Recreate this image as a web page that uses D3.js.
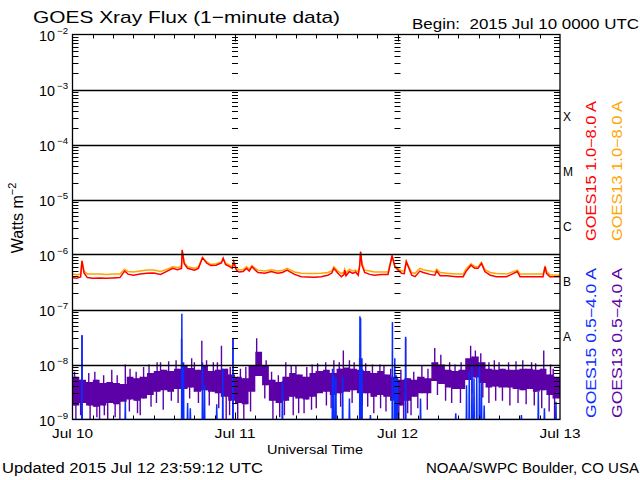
<!DOCTYPE html>
<html>
<head>
<meta charset="utf-8">
<script src="https://cdn.jsdelivr.net/npm/d3@7"></script>
<style>
body { margin:0; background:#fff; }
text { font-family:'Liberation Sans', Arial, sans-serif; }
</style>
</head>
<body>
<div class="canvas"></div>
<script>
// hours since 2015 Jul 10 0000 UTC, long channel (1.0-8.0 A) samples
const longHours = [
  0, 0.6, 1.2, 1.4, 1.7, 2.2, 3, 4, 5, 6,
  7, 7.7, 8.2, 9, 10, 11, 12, 13, 14, 14.8,
  15.5, 16.1, 16.2, 16.5, 17, 18, 18.6, 19.2, 19.8, 20.4,
  21.2, 22, 22.25, 22.6, 23.2, 23.6, 23.8, 24.2, 24.6, 25.2,
  25.7, 26.1, 26.5, 27, 27.4, 28.4, 29.35, 30.3, 31, 31.7,
  32.2, 32.8, 33.8, 34.8, 35.75, 36.7, 37.7, 38.3, 38.6, 39.2,
  39.7, 40.1, 40.2, 40.4, 40.9, 41.4, 41.8, 42.2, 42.4, 42.55,
  42.75, 43.15, 43.9, 44.6, 45.6, 46.6, 47.2, 47.6, 48.1, 48.6,
  49, 49.3, 49.6, 50.1, 50.6, 51.3, 51.8, 52.8, 53.5, 53.8,
  54.3, 55.3, 56.7, 57.7, 58.1, 58.85, 59.4, 59.9, 60.4, 60.9,
  61.7, 62.6, 64.1, 65.7, 66.1, 67.6, 69.5, 69.8, 70, 70.5,
  71.5, 72
];
// GOES15 1.0-8.0 A (W m-2)
const goes15Long = [
  3.8e-7, 3.7e-7, 3.9e-7, 7.6e-7, 4.6e-7, 3.8e-7, 3.7e-7, 3.75e-7, 3.7e-7, 3.75e-7,
  3.8e-7, 5.0e-7, 4.4e-7, 4.2e-7, 4.4e-7, 4.55e-7, 4.6e-7, 4.35e-7, 5.0e-7, 5.6e-7,
  5.3e-7, 5.6e-7, 1.22e-6, 6.8e-7, 5.6e-7, 5.2e-7, 5.6e-7, 8.7e-7, 7.0e-7, 6.3e-7,
  6.4e-7, 7.0e-7, 8.6e-7, 6.6e-7, 6.0e-7, 5.6e-7, 7.4e-7, 5.2e-7, 4.8e-7, 4.9e-7,
  5.6e-7, 5.0e-7, 6.0e-7, 5.2e-7, 4.7e-7, 4.55e-7, 4.9e-7, 4.55e-7, 4.7e-7, 5.2e-7,
  4.8e-7, 4.35e-7, 3.95e-7, 3.9e-7, 3.85e-7, 3.95e-7, 4.2e-7, 4.6e-7, 5.6e-7, 4.55e-7,
  3.95e-7, 4.3e-7, 5.2e-7, 4.1e-7, 4.9e-7, 4.55e-7, 4.8e-7, 4.2e-7, 6.0e-7, 1.13e-6,
  6.4e-7, 4.7e-7, 4.35e-7, 4.2e-7, 4.35e-7, 4.35e-7, 9.6e-7, 6.0e-7, 5.2e-7, 4.55e-7,
  4.5e-7, 7.4e-7, 6.0e-7, 4.2e-7, 3.95e-7, 5.0e-7, 4.7e-7, 4.35e-7, 4.2e-7, 5.0e-7,
  4.1e-7, 4.1e-7, 3.95e-7, 3.95e-7, 4.9e-7, 6.4e-7, 5.6e-7, 5.6e-7, 6.9e-7, 4.9e-7,
  4.2e-7, 3.95e-7, 3.95e-7, 4.9e-7, 3.95e-7, 3.95e-7, 3.95e-7, 6.0e-7, 4.55e-7, 3.95e-7,
  3.95e-7, 3.95e-7
];
// GOES13 1.0-8.0 A (W m-2)
const goes13Long = [
  4.4e-7, 4.3e-7, 4.4e-7, 7.8e-7, 5.0e-7, 4.4e-7, 4.4e-7, 4.4e-7, 4.35e-7, 4.4e-7,
  4.4e-7, 5.4e-7, 4.9e-7, 4.8e-7, 5.0e-7, 5.2e-7, 5.2e-7, 4.9e-7, 5.4e-7, 6.0e-7,
  5.8e-7, 6.0e-7, 1.15e-6, 7.2e-7, 6.0e-7, 5.6e-7, 6.0e-7, 8.8e-7, 7.4e-7, 6.6e-7,
  6.8e-7, 7.3e-7, 8.4e-7, 7.0e-7, 6.4e-7, 6.0e-7, 7.6e-7, 5.6e-7, 5.3e-7, 5.3e-7,
  6.0e-7, 5.4e-7, 6.3e-7, 5.6e-7, 5.2e-7, 5.0e-7, 5.3e-7, 5.0e-7, 5.1e-7, 5.6e-7,
  5.2e-7, 4.8e-7, 4.55e-7, 4.5e-7, 4.5e-7, 4.55e-7, 4.7e-7, 5.0e-7, 6.0e-7, 5.0e-7,
  4.55e-7, 4.7e-7, 5.4e-7, 4.6e-7, 5.4e-7, 5.0e-7, 5.2e-7, 4.8e-7, 6.2e-7, 1.1e-6,
  6.8e-7, 5.2e-7, 5.0e-7, 4.8e-7, 4.8e-7, 4.8e-7, 9.2e-7, 6.3e-7, 5.6e-7, 5.0e-7,
  5.0e-7, 7.6e-7, 6.3e-7, 4.7e-7, 4.55e-7, 5.6e-7, 5.3e-7, 5.0e-7, 4.8e-7, 5.4e-7,
  4.7e-7, 4.55e-7, 4.4e-7, 4.4e-7, 5.4e-7, 6.8e-7, 6.0e-7, 6.0e-7, 7.2e-7, 5.3e-7,
  4.7e-7, 4.5e-7, 4.4e-7, 5.2e-7, 4.4e-7, 4.4e-7, 4.4e-7, 6.2e-7, 5.0e-7, 4.3e-7,
  4.2e-7, 4.2e-7
];

// GOES13 0.5-4.0 A : hourly envelope of the dense part of the noisy trace (W m-2)
const goes13ShortHi = [
  6.0e-9, 5.3e-9, 4.8e-9, 5.3e-9, 4.6e-9, 4.8e-9, 4.6e-9, 4.4e-9, 6.0e-9, 5.6e-9,
  6.0e-9, 7.0e-9, 7.6e-9, 8.0e-9, 7.6e-9, 8.4e-9, 9.4e-9, 8.6e-9, 8.0e-9, 9.4e-9,
  7.6e-9, 8.0e-9, 8.4e-9, 6.6e-9, 6.0e-9, 5.6e-9, 9.4e-9, 1.7e-8, 9.4e-9, 5.3e-9,
  4.8e-9, 6.0e-9, 7.0e-9, 6.6e-9, 6.0e-9, 7.0e-9, 7.6e-9, 8.0e-9, 7.0e-9, 8.4e-9,
  8.8e-9, 8.4e-9, 8.0e-9, 7.6e-9, 7.0e-9, 7.6e-9, 6.6e-9, 6.0e-9, 5.3e-9, 5.6e-9,
  5.3e-9, 6.0e-9, 5.6e-9, 1.1e-8, 1.0e-8, 8.0e-9, 7.6e-9, 8.0e-9, 1.3e-8, 1.4e-8,
  1.1e-8, 8.4e-9, 8.0e-9, 8.4e-9, 8.0e-9, 8.0e-9, 8.4e-9, 8.4e-9, 8.0e-9, 8.4e-9,
  6.6e-9, 6.0e-9
];
const goes13ShortLo = [
  1.8e-9, 2.0e-9, 1.8e-9, 1.7e-9, 1.8e-9, 2.0e-9, 1.9e-9, 2.1e-9, 2.3e-9, 2.2e-9,
  2.4e-9, 2.8e-9, 3.2e-9, 3.4e-9, 3.2e-9, 3.6e-9, 3.6e-9, 3.8e-9, 3.2e-9, 3.4e-9,
  3.2e-9, 3.0e-9, 2.6e-9, 2.2e-9, 2.0e-9, 1.9e-9, 3.2e-9, 6.2e-9, 4.2e-9, 2.2e-9,
  2.0e-9, 2.2e-9, 2.6e-9, 2.4e-9, 2.3e-9, 2.6e-9, 3.0e-9, 3.2e-9, 2.8e-9, 3.0e-9,
  3.2e-9, 3.4e-9, 3.0e-9, 3.0e-9, 2.6e-9, 2.8e-9, 2.6e-9, 2.2e-9, 1.8e-9, 2.2e-9,
  2.6e-9, 3.0e-9, 3.0e-9, 5.0e-9, 4.4e-9, 3.8e-9, 3.6e-9, 3.6e-9, 5.2e-9, 5.8e-9,
  4.6e-9, 3.8e-9, 4.0e-9, 3.8e-9, 3.8e-9, 3.6e-9, 3.4e-9, 3.6e-9, 3.2e-9, 3.4e-9,
  2.8e-9, 2.4e-9
];
// GOES13 0.5-4.0 A : single-minute excursions above the envelope
const goes13PeakHours = [
  0.3, 1.4, 2.4, 3.3, 4.6, 5.8, 6.6, 7.8, 8.5, 9.4,
  10.5, 11.3, 12.5, 13.0, 14.2, 15.3, 16.1, 17.6, 18.0, 19.1,
  19.8, 20.8, 21.4, 22.0, 23.3, 23.7, 24.8, 25.6, 27.2, 28.6,
  29.4, 30.4, 31.5, 32.3, 33.0, 34.6, 35.4, 36.2, 37.4, 38.6,
  39.4, 40.0, 40.9, 41.6, 42.4, 43.3, 44.3, 45.4, 46.0, 47.0,
  48.5, 49.2, 50.4, 51.6, 52.5, 53.5, 54.4, 55.7, 56.5, 57.4,
  58.8, 59.5, 60.3, 61.5, 62.3, 63.0, 64.4, 65.5, 66.5, 67.8,
  68.4, 69.6, 70.6, 71.0
];
const goes13PeakVals = [
  7.4e-9, 3.4e-8, 7.0e-9, 7.4e-9, 6.4e-9, 8.0e-9, 6.4e-9, 1.0e-8, 8.4e-9, 7.4e-9,
  9.0e-9, 1.0e-8, 1.1e-8, 1.1e-8, 1.15e-8, 1.2e-8, 2.9e-8, 1.3e-8, 1.1e-8, 2.7e-8,
  1.2e-8, 1.1e-8, 1.1e-8, 2.2e-8, 9.0e-9, 3.0e-8, 8.4e-9, 9.0e-9, 3.0e-8, 1.2e-8,
  7.4e-9, 6.4e-9, 1.1e-8, 9.6e-9, 9.5e-9, 9.0e-9, 1.0e-8, 1.05e-8, 1.1e-8, 1.2e-8,
  1.1e-8, 1.8e-8, 1.2e-8, 1.1e-8, 1.3e-8, 1.05e-8, 1.0e-8, 1.0e-8, 9.6e-9, 8.4e-9,
  8.0e-9, 3.0e-8, 7.4e-9, 9.6e-9, 8.4e-9, 2.0e-8, 1.5e-8, 1.1e-8, 1.0e-8, 1.1e-8,
  2.2e-8, 1.8e-8, 1.6e-8, 1.1e-8, 1.2e-8, 1.1e-8, 1.1e-8, 1.15e-8, 1.2e-8, 1.1e-8,
  1.05e-8, 1.8e-8, 1.0e-8, 8.4e-9
];
// GOES13 0.5-4.0 A : single-minute drops below the envelope
const goes13DipHours = [
  0.5, 1.2, 2.6, 3.6, 4.0, 4.7, 5.2, 6.3, 7.0, 8.4,
  9.6, 10.0, 11.6, 12.4, 13.4, 14.6, 15.6, 17.3, 18.6, 20.2,
  21.6, 22.7, 23.2, 24.4, 25.3, 26.3, 28.4, 29.6, 30.6, 31.3,
  32.6, 33.4, 34.2, 35.3, 36.0, 37.5, 38.2, 39.6, 41.3, 42.8,
  43.6, 44.5, 45.5, 46.3, 47.6, 48.2, 48.9, 49.5, 50.0, 51.0,
  52.4, 53.9, 55.1, 56.0, 57.3, 59.0, 60.6, 61.5, 62.5, 63.5,
  64.6, 65.8, 67.0, 68.2, 69.3, 70.4, 71.2
];
const goes13DipVals = [
  1e-9, 1.2e-9, 1e-9, 1.1e-9, 1e-9, 1.2e-9, 1e-9, 1.1e-9, 1e-9, 1.4e-9,
  1.3e-9, 1.2e-9, 1.7e-9, 2.0e-9, 1.5e-9, 2.2e-9, 2.0e-9, 2.4e-9, 2.0e-9, 1.8e-9,
  1.6e-9, 1e-9, 1.2e-9, 1e-9, 1e-9, 1.4e-9, 2.4e-9, 1e-9, 1.1e-9, 1.2e-9,
  1.2e-9, 1.3e-9, 1.3e-9, 1.5e-9, 1.6e-9, 1.8e-9, 1.6e-9, 1.7e-9, 2.0e-9, 1.8e-9,
  1.7e-9, 1.3e-9, 1.6e-9, 1.4e-9, 1e-9, 1e-9, 1e-9, 1.3e-9, 1.2e-9, 1.6e-9,
  1.5e-9, 2.8e-9, 2.2e-9, 2.0e-9, 2.0e-9, 3.0e-9, 2.5e-9, 2.0e-9, 2.2e-9, 2.2e-9,
  1.8e-9, 2.0e-9, 1.9e-9, 1.8e-9, 1.6e-9, 1.4e-9, 1e-9
];

// GOES15 0.5-4.0 A : below 1e-9 except these bursts
const goes15ShortHours = [1.4, 7.8, 16.15, 16.4, 17.0, 17.4, 19.2, 19.5, 21.3, 22.2, 23.7, 31.0, 38.4, 38.6, 38.9, 39.9, 40.9, 42.45, 42.55, 42.75, 44.0, 47.25, 47.6, 47.8, 48.0, 49.2, 51.4, 56.6, 58.2, 58.6, 59.0, 59.3, 59.7, 60.1, 60.4, 60.8, 66.3, 68.8, 69.7, 71.4];
const goes15ShortPeaks = [3.4e-8, 2.1e-9, 8.4e-8, 1.1e-8, 2.0e-9, 1.6e-9, 1.1e-8, 4.2e-9, 1.9e-9, 8.4e-9, 3.0e-8, 5.0e-9, 8.4e-9, 6.4e-9, 5.6e-9, 6.0e-9, 2.4e-9, 7.5e-8, 7.0e-8, 1.3e-8, 1.2e-9, 5.9e-8, 1.3e-8, 6.4e-9, 5.6e-9, 3.2e-8, 2.4e-9, 1.3e-9, 4.2e-9, 7.4e-9, 1.04e-8, 5.6e-9, 6.4e-9, 1.04e-8, 4.8e-9, 1.8e-9, 1.2e-9, 3.2e-9, 1.6e-9, 2.1e-9];
const goes15Floor = 1e-9;

const dayLabels = ['Jul 10', 'Jul 11', 'Jul 12', 'Jul 13'];
const decadeExps = [-9, -8, -7, -6, -5, -4, -3, -2];
const flareClasses = ['A', 'B', 'C', 'M', 'X'];
const legendLong = [{name:'GOES15 1.0\u22128.0 A', color:'#ff0000'}, {name:'GOES13 1.0\u22128.0 A', color:'#ffa500'}];
const legendShort = [{name:'GOES15 0.5\u22124.0 A', color:'#0a2dff'}, {name:'GOES13 0.5\u22124.0 A', color:'#5c00a8'}];

const dims = { width:640, height:480 };
const plot = { left:72.5, right:560, top:34.5, bottom:419.5 };

const svg = d3.select('.canvas').append('svg')
  .attr('width', dims.width)
  .attr('height', dims.height);

const x = d3.scaleLinear().domain([0, 72]).range([plot.left, plot.right]);
const y = d3.scaleLog().domain([1e-9, 1e-2]).range([plot.bottom, plot.top]).clamp(true);

svg.append('clipPath').attr('id', 'clip')
  .append('rect')
  .attr('x', plot.left).attr('y', plot.top)
  .attr('width', plot.right - plot.left).attr('height', plot.bottom - plot.top);

const data = svg.append('g').attr('clip-path', 'url(#clip)');
const purple = '#5c00a8';

//------------------------ short channel GOES13 (purple noisy band)
const bins = goes13ShortHi.map((hi, i) => ({ h:i, hi:hi, lo:goes13ShortLo[i] }));
bins.push({ h:72, hi:goes13ShortHi[71], lo:goes13ShortLo[71] });

data.append('path')
  .datum(bins)
  .attr('fill', purple)
  .attr('d', d3.area().curve(d3.curveStepAfter)
    .x(d => x(d.h)).y0(d => y(d.lo)).y1(d => y(d.hi)));

// excursions drawn as one-minute strokes from the envelope
const binAt = h => Math.min(71, Math.floor(h));
data.selectAll('line.peak13')
  .data(goes13PeakHours)
  .enter().append('line')
  .attr('class', 'peak13')
  .attr('x1', d => x(d)).attr('x2', d => x(d))
  .attr('y1', d => y(goes13ShortLo[binAt(d)]))
  .attr('y2', (d, i) => y(goes13PeakVals[i]))
  .attr('stroke', purple).attr('stroke-width', 1.4);

data.selectAll('line.dip13')
  .data(goes13DipHours)
  .enter().append('line')
  .attr('class', 'dip13')
  .attr('x1', d => x(d)).attr('x2', d => x(d))
  .attr('y1', d => y(goes13ShortHi[binAt(d)]))
  .attr('y2', (d, i) => y(goes13DipVals[i]))
  .attr('stroke', purple).attr('stroke-width', 1.4);

//------------------------ short channel GOES15 (blue, sits on the floor)
const bluePts = [{ h:0, v:goes15Floor }];
goes15ShortHours.forEach((h, i) => {
  bluePts.push({ h:h - 0.04, v:goes15Floor });
  bluePts.push({ h:h, v:goes15ShortPeaks[i] });
  bluePts.push({ h:h + 0.04, v:goes15Floor });
});
bluePts.push({ h:72, v:goes15Floor });

data.append('path')
  .datum(bluePts)
  .attr('fill', 'none')
  .attr('stroke', '#0a2dff')
  .attr('stroke-width', 1.5)
  .attr('d', d3.line().x(d => x(d.h)).y(d => y(d.v)));

//------------------------ long channel
const longLine = d3.line().x(d => x(d.h)).y(d => y(d.v));
data.append('path')
  .datum(longHours.map((h, i) => ({ h:h, v:goes13Long[i] })))
  .attr('fill', 'none').attr('stroke', '#ffa500').attr('stroke-width', 1.5)
  .attr('d', longLine);
data.append('path')
  .datum(longHours.map((h, i) => ({ h:h, v:goes15Long[i] })))
  .attr('fill', 'none').attr('stroke', '#ff0000').attr('stroke-width', 1.5)
  .attr('d', longLine);

//------------------------ grid, frame and ticks
const axes = svg.append('g').attr('stroke', '#000').attr('fill', 'none');

decadeExps.slice(1, -1).forEach(e => {
  const yy = Math.round(y(Math.pow(10, e))) + 0.5;
  axes.append('line')
    .attr('x1', plot.left).attr('x2', plot.right)
    .attr('y1', yy).attr('y2', yy)
    .attr('stroke-width', 1.3);
});

axes.append('rect')
  .attr('x', plot.left).attr('y', plot.top)
  .attr('width', plot.right - plot.left).attr('height', plot.bottom - plot.top)
  .attr('stroke-width', 1.3);

const minorVals = [];
decadeExps.slice(0, -1).forEach(e => {
  for (let k = 2; k <= 9; k++) minorVals.push(k * Math.pow(10, e));
});

minorVals.forEach(v => {
  const yy = Math.round(y(v)) + 0.5;
  axes.append('line').attr('x1', plot.left).attr('x2', plot.left + 6).attr('y1', yy).attr('y2', yy);
  axes.append('line').attr('x1', plot.right - 6).attr('x2', plot.right).attr('y1', yy).attr('y2', yy);
  [24, 48].forEach(h => {
    axes.append('line').attr('x1', x(h) - 3).attr('x2', x(h) + 3).attr('y1', yy).attr('y2', yy);
  });
});

d3.range(3, 72, 3).forEach(h => {
  const xx = Math.round(x(h)) + 0.5;
  const len = (h % 24 === 0) ? 7 : 4;
  axes.append('line').attr('x1', xx).attr('x2', xx).attr('y1', plot.top).attr('y2', plot.top + len);
  axes.append('line').attr('x1', xx).attr('x2', xx).attr('y1', plot.bottom).attr('y2', plot.bottom - len);
});

//------------------------ y tick labels 10^n
decadeExps.forEach(e => {
  const yy = y(Math.pow(10, e));
  svg.append('text')
    .attr('x', 39).attr('y', yy + 6)
    .attr('font-size', 14)
    .attr('textLength', 16).attr('lengthAdjust', 'spacingAndGlyphs')
    .text('10');
  svg.append('text')
    .attr('x', 57).attr('y', yy - 0.5)
    .attr('font-size', 9)
    .attr('textLength', 11).attr('lengthAdjust', 'spacingAndGlyphs')
    .text('\u2212' + Math.abs(e));
});

// flare class letters centred in each decade
flareClasses.forEach((c, i) => {
  svg.append('text')
    .attr('x', 563).attr('y', y(Math.pow(10, -7.5 + i)) + 4)
    .attr('font-family', "'Liberation Serif', 'DejaVu Serif', serif")
    .attr('font-size', 12)
    .text(c);
});

//------------------------ titles and labels
svg.append('text')
  .attr('x', 33).attr('y', 23)
  .attr('font-size', 17)
  .attr('textLength', 307).attr('lengthAdjust', 'spacingAndGlyphs')
  .text('GOES Xray Flux (1\u2212minute data)');

svg.append('text')
  .attr('x', 412).attr('y', 29)
  .attr('font-size', 14)
  .attr('textLength', 227).attr('lengthAdjust', 'spacingAndGlyphs')
  .attr('xml:space', 'preserve')
  .text('Begin:  2015 Jul 10 0000 UTC');

const yLabel = svg.append('text')
  .attr('transform', 'translate(23, 218) rotate(-90)')
  .attr('text-anchor', 'middle')
  .attr('font-size', 16);
yLabel.append('tspan').text('Watts m');
yLabel.append('tspan').attr('dy', -7).attr('font-size', 11).text('\u22122');

dayLabels.forEach((d, i) => {
  svg.append('text')
    .attr('x', x(i * 24)).attr('y', 438)
    .attr('text-anchor', 'middle')
    .attr('font-size', 13)
    .attr('textLength', 41).attr('lengthAdjust', 'spacingAndGlyphs')
    .text(d);
});

svg.append('text')
  .attr('x', 315).attr('y', 454)
  .attr('text-anchor', 'middle')
  .attr('font-size', 13)
  .attr('textLength', 96).attr('lengthAdjust', 'spacingAndGlyphs')
  .text('Universal Time');

svg.append('text')
  .attr('x', 2).attr('y', 473)
  .attr('font-size', 14)
  .attr('textLength', 261).attr('lengthAdjust', 'spacingAndGlyphs')
  .text('Updated 2015 Jul 12 23:59:12 UTC');

svg.append('text')
  .attr('x', 639).attr('y', 473)
  .attr('text-anchor', 'end')
  .attr('font-size', 14)
  .attr('textLength', 213).attr('lengthAdjust', 'spacingAndGlyphs')
  .text('NOAA/SWPC Boulder, CO USA');

//------------------------ legend (rotated series names)
legendLong.forEach((s, i) => {
  svg.append('text')
    .attr('transform', `translate(${596 + i * 26}, 171) rotate(-90)`)
    .attr('text-anchor', 'middle')
    .attr('font-size', 14)
    .attr('fill', s.color)
    .attr('textLength', 140).attr('lengthAdjust', 'spacingAndGlyphs')
    .text(s.name);
});
legendShort.forEach((s, i) => {
  svg.append('text')
    .attr('transform', `translate(${596 + i * 26}, 343) rotate(-90)`)
    .attr('text-anchor', 'middle')
    .attr('font-size', 14)
    .attr('fill', s.color)
    .attr('textLength', 150).attr('lengthAdjust', 'spacingAndGlyphs')
    .text(s.name);
});
</script>
</body>
</html>
